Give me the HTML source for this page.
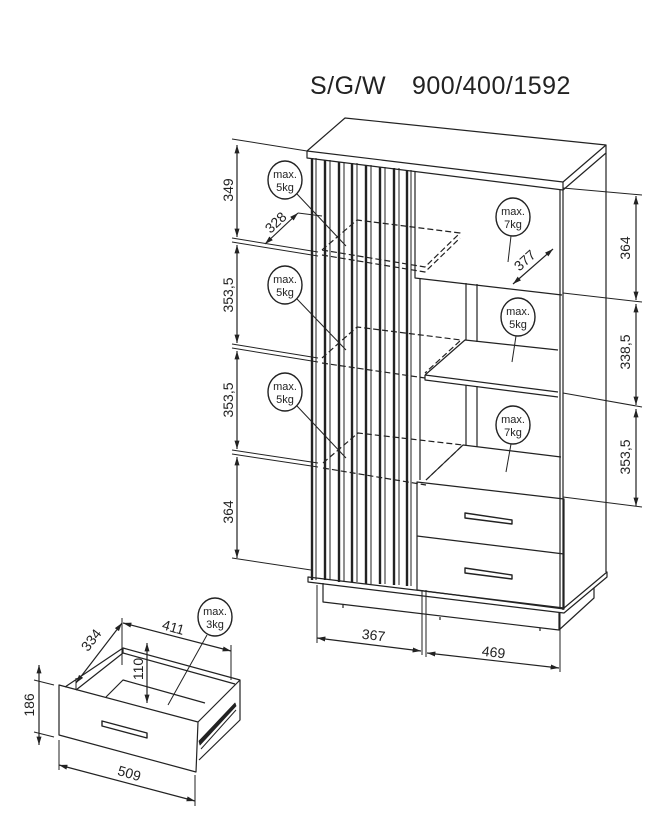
<!DOCTYPE html>
<html><head><meta charset="utf-8"><style>
html,body{margin:0;padding:0;background:#fff}
svg{display:block}
text{font-family:"Liberation Sans",sans-serif;fill:#222}
</style></head><body>
<svg width="669" height="815" viewBox="0 0 669 815" xmlns="http://www.w3.org/2000/svg">
<defs>
<marker id="a" viewBox="0 0 10 10" refX="10" refY="5" markerWidth="7" markerHeight="7" orient="auto-start-reverse"><path d="M0,2 L10,5 L0,8 z" fill="#222"/></marker>
</defs>
<g stroke="#222" stroke-width="1.2" fill="none" stroke-linejoin="round">
<text x="310" y="94" font-size="25" stroke="none" fill="#222" letter-spacing="0.5">S/G/W</text>
<text x="412" y="94" font-size="25" stroke="none" fill="#222" letter-spacing="0.5">900/400/1592</text>

<!-- top panel -->
<path d="M307,151 L345,118 L606,145 L563,182 Z" fill="#fff"/>
<path d="M307,151 L307,158 L563,190 L563,182"/>
<path d="M563,190 L606,153 L606,145"/>
<!-- right side -->
<line x1="563" y1="190" x2="563" y2="610"/>
<line x1="560" y1="190" x2="560" y2="608"/>
<line x1="606" y1="153" x2="606" y2="572"/>

<!-- slats -->
<g stroke-width="1">
<line x1="312" y1="158" x2="312" y2="580" stroke-width="2.4"/>
<line x1="316" y1="158" x2="316" y2="580"/>
<line x1="325" y1="160" x2="325" y2="580" stroke-width="2.4"/>
<line x1="330" y1="160" x2="330" y2="580"/>
<line x1="339" y1="162" x2="339" y2="582" stroke-width="2.4"/>
<line x1="344" y1="162" x2="344" y2="582"/>
<line x1="352" y1="163" x2="352" y2="582" stroke-width="2.4"/>
<line x1="357" y1="163" x2="357" y2="582"/>
<line x1="366" y1="165" x2="366" y2="584" stroke-width="2.4"/>
<line x1="371" y1="165" x2="371" y2="584"/>
<line x1="380" y1="167" x2="380" y2="584" stroke-width="2.4"/>
<line x1="385" y1="167" x2="385" y2="584"/>
<line x1="394" y1="168" x2="394" y2="585" stroke-width="2.4"/>
<line x1="399" y1="168" x2="399" y2="585"/>
<line x1="407" y1="170" x2="407" y2="586" stroke-width="2.4"/>
<line x1="411" y1="170" x2="411" y2="586"/>
</g>

<!-- upper right door panel -->
<path d="M415,172 L415,278 L562,295"/>
<line x1="420" y1="278" x2="420" y2="480"/>
<line x1="466" y1="283" x2="466" y2="340"/>
<line x1="477" y1="284" x2="477" y2="342"/>
<line x1="466" y1="385" x2="466" y2="445"/>
<line x1="477" y1="386" x2="477" y2="447"/>
<!-- right shelf 1 -->
<path d="M425,375 L465,340 L558,350"/>
<path d="M425,375 L425,380 L558,397"/>
<line x1="425" y1="375" x2="558" y2="392"/>
<!-- right lower shelf -->
<path d="M426,480 L463,445 L561,457"/>

<!-- dashed shelves -->
<g stroke-dasharray="6,3">
<path d="M322,250 L357,220 L460,233 L425,267 Z"/>
<path d="M322,255 L425,272 L460,238"/>
<path d="M322,358 L357,327 L461,340 L425,373"/>
<path d="M322,363 L425,378"/>
<path d="M323,463 L358,433 L463,445 L426,480"/>
<path d="M323,468 L426,485"/>
</g>

<!-- drawers -->
<path d="M417,482 L564,499 L564,554 L417,536 Z"/>
<path d="M417,536 L417,590 L564,609 L564,554"/>
<path d="M465,513 L512,520 L512,524 L465,518 Z" stroke-width="1.4"/>
<path d="M465,568 L512,575 L512,579 L465,573 Z" stroke-width="1.4"/>

<!-- plinth -->
<path d="M308,577 L564,608 L607,572 L607,577 L564,613 L308,582 Z"/>
<path d="M323,583 L323,602 L559,630 L594,598 L594,588"/>
<line x1="559" y1="613" x2="559" y2="630"/>
<line x1="343" y1="605" x2="343" y2="608"/>
<line x1="440" y1="617" x2="440" y2="620"/>
<line x1="540" y1="628" x2="540" y2="631"/>

<!-- left dims -->
<g stroke-width="1">
<line x1="232" y1="139" x2="307" y2="151"/>
<line x1="232" y1="238" x2="318" y2="252"/>
<line x1="232" y1="242" x2="318" y2="256"/>
<line x1="232" y1="344" x2="318" y2="358"/>
<line x1="232" y1="348" x2="318" y2="362"/>
<line x1="232" y1="450" x2="318" y2="463"/>
<line x1="232" y1="454" x2="318" y2="467"/>
<line x1="232" y1="558" x2="311" y2="570"/>
</g>
<line x1="237" y1="145" x2="237" y2="237" marker-start="url(#a)" marker-end="url(#a)"/>
<line x1="237" y1="245" x2="237" y2="343" marker-start="url(#a)" marker-end="url(#a)"/>
<line x1="237" y1="351" x2="237" y2="449" marker-start="url(#a)" marker-end="url(#a)"/>
<line x1="237" y1="457" x2="237" y2="558" marker-start="url(#a)" marker-end="url(#a)"/>

<!-- right dims -->
<g stroke-width="1">
<line x1="563" y1="188" x2="642" y2="195"/>
<line x1="563" y1="293" x2="642" y2="302"/>
<line x1="563" y1="393" x2="642" y2="407"/>
<line x1="563" y1="497" x2="642" y2="507"/>
</g>
<line x1="636" y1="196" x2="636" y2="300" marker-start="url(#a)" marker-end="url(#a)"/>
<line x1="636" y1="304" x2="636" y2="405" marker-start="url(#a)" marker-end="url(#a)"/>
<line x1="636" y1="409" x2="636" y2="506" marker-start="url(#a)" marker-end="url(#a)"/>

<!-- bottom dims -->
<line x1="317" y1="585" x2="317" y2="643" stroke-width="1"/>
<line x1="422" y1="590" x2="422" y2="655" stroke-width="1"/>
<line x1="426" y1="590" x2="426" y2="657" stroke-width="1"/>
<line x1="560" y1="613" x2="560" y2="672" stroke-width="1"/>
<line x1="317" y1="638" x2="421" y2="651" marker-start="url(#a)" marker-end="url(#a)"/>
<line x1="427" y1="653" x2="559" y2="668" marker-start="url(#a)" marker-end="url(#a)"/>

<!-- 328 / 377 -->
<line x1="265" y1="244" x2="298" y2="213" marker-start="url(#a)" marker-end="url(#a)"/>
<line x1="298" y1="213" x2="322" y2="216" stroke-width="1"/>
<line x1="513" y1="284" x2="553" y2="249" marker-start="url(#a)" marker-end="url(#a)"/>

<!-- weight circles -->
<g fill="#fff" stroke-width="1.4">
<ellipse cx="285" cy="180" rx="17" ry="19"/>
<ellipse cx="285" cy="285" rx="17" ry="19"/>
<ellipse cx="285" cy="392" rx="17" ry="19"/>
<ellipse cx="513" cy="217" rx="17" ry="19"/>
<ellipse cx="518" cy="317" rx="17" ry="19"/>
<ellipse cx="513" cy="425" rx="17" ry="19"/>
</g>
<g stroke-width="1">
<line x1="297" y1="194" x2="346" y2="246"/>
<line x1="297" y1="299" x2="346" y2="350"/>
<line x1="297" y1="406" x2="346" y2="458"/>
<line x1="511" y1="236" x2="508" y2="262"/>
<line x1="516" y1="336" x2="512" y2="362"/>
<line x1="511" y1="444" x2="506" y2="472"/>
</g>

<!-- small drawer -->
<path d="M59,685 L198,722 L196,772 L59,735 Z" fill="#fff"/>
<path d="M65,687 L123,648 L240,680 L198,722"/>
<path d="M76,690 L123,653 L235,684"/>
<path d="M123,648 L123,653"/>
<path d="M240,680 L240,720 L199,760"/>
<path d="M106,697 L123,680 L205,703"/>
<path d="M199,741 L235,703 L236,706 L200,745 Z" fill="#222" stroke-width="0.8"/>
<line x1="201" y1="749" x2="236" y2="710" stroke-width="1"/>
<path d="M102,721 L147,733 L147,738 L102,726 Z" stroke-width="1.4"/>
<!-- drawer dims -->
<g stroke-width="1">
<line x1="76" y1="690" x2="76" y2="678"/>
<line x1="122" y1="665" x2="122" y2="618"/>
<line x1="231" y1="680" x2="231" y2="645"/>
<line x1="34" y1="680" x2="54" y2="685"/>
<line x1="34" y1="732" x2="54" y2="737"/>
<line x1="59" y1="740" x2="59" y2="770"/>
<line x1="195" y1="775" x2="195" y2="806"/>
</g>
<line x1="76" y1="683" x2="122" y2="623" marker-start="url(#a)" marker-end="url(#a)"/>
<line x1="123" y1="623" x2="231" y2="651" marker-start="url(#a)" marker-end="url(#a)"/>
<line x1="147" y1="643" x2="147" y2="703" marker-start="url(#a)" marker-end="url(#a)"/>
<line x1="39" y1="665" x2="39" y2="745" marker-start="url(#a)" marker-end="url(#a)"/>
<line x1="59" y1="765" x2="195" y2="801" marker-start="url(#a)" marker-end="url(#a)"/>
<ellipse cx="215" cy="617" rx="17" ry="19" fill="#fff" stroke-width="1.4"/>
<line x1="207" y1="635" x2="168" y2="705" stroke-width="1"/>
</g>

<g font-size="14" text-anchor="middle">
<text transform="translate(233,190) rotate(-90)">349</text>
<text transform="translate(233,295) rotate(-90)">353,5</text>
<text transform="translate(233,400) rotate(-90)">353,5</text>
<text transform="translate(233,512) rotate(-90)">364</text>
<text transform="translate(630,248) rotate(-90)">364</text>
<text transform="translate(630,352) rotate(-90)">338,5</text>
<text transform="translate(630,457) rotate(-90)">353,5</text>
<text transform="translate(373,640) rotate(7)">367</text>
<text transform="translate(493,657) rotate(7)">469</text>
<text transform="translate(279,226) rotate(-43)">328</text>
<text transform="translate(528,264) rotate(-42)">377</text>
<text transform="translate(95,643) rotate(-52)">334</text>
<text transform="translate(172,632) rotate(16)">411</text>
<text transform="translate(143,669) rotate(-90)">110</text>
<text transform="translate(34,705) rotate(-90)">186</text>
<text transform="translate(128,778) rotate(16)">509</text>
</g>
<g font-size="11" text-anchor="middle">
<text x="285" y="178">max.</text><text x="285" y="191">5kg</text>
<text x="285" y="283">max.</text><text x="285" y="296">5kg</text>
<text x="285" y="390">max.</text><text x="285" y="403">5kg</text>
<text x="513" y="215">max.</text><text x="513" y="228">7kg</text>
<text x="518" y="315">max.</text><text x="518" y="328">5kg</text>
<text x="513" y="423">max.</text><text x="513" y="436">7kg</text>
<text x="215" y="615">max.</text><text x="215" y="628">3kg</text>
</g>
</svg>
</body></html>
